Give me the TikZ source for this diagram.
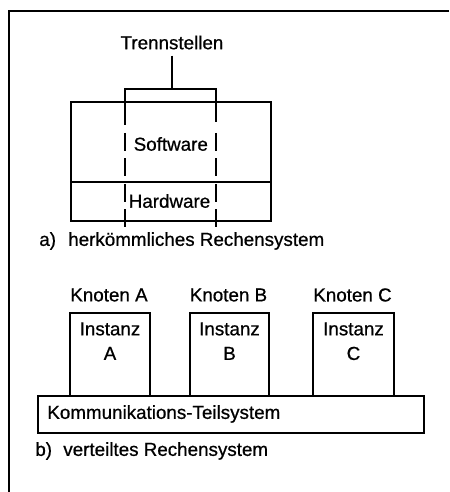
\documentclass[tikz,border=0pt]{standalone}
\usepackage{fontspec}
\setmainfont{Liberation Sans}[BoldFont=Liberation Sans, BoldFeatures={FakeBold=0.7}]
\usetikzlibrary{positioning}

\begin{document}
\begin{tikzpicture}[
  x=0.02cm, y=-0.02cm,
  box/.style={rectangle, draw=black, line width=1.1pt, inner sep=0pt},
  sep/.style={line width=0.85pt, dash pattern=on 10pt off 4.5pt},
  frame/.style={line width=1.3pt},
  lbl/.style={font=\fontsize{10.7}{13}\selectfont\bfseries, inner sep=0pt},
  captxt/.style={lbl, anchor=west}
]
  \useasboundingbox (0,0) rectangle (449,492);
  % outer frame (right and bottom edges cut off)
  \draw[frame] (449,11) -- (9,11) -- (9,492);

  % a) conventional system
  \node[box, minimum width=4cm, minimum height=1.6cm] (sw) at (170.7,142) {};
  \node[box, minimum width=4cm, minimum height=0.78cm] (hw) at (170.7,201.5) {};
  \node[lbl] (swtxt) at (170.8,144) {Software};
  \node[lbl] (hwtxt) at (169.5,201) {Hardware};

  % separation points
  \node[lbl, inner sep=3.3pt] (trenn) at (172,42.5) {Trennstellen};
  \coordinate (brL) at (125,89);
  \coordinate (brR) at (216,89);
  \coordinate (brTop) at (172,89);
  \draw[line width=0.85pt] (trenn.south) -- (brTop);
  \draw[line width=0.85pt] (125,125) -- (brL) -- (brR) -- (216,122);
  \foreach \x in {125,216}{
    \draw[sep] (\x,133) -- (\x,232);
  }
  \node[captxt] (capA) at (39,241) {a)\hspace{0.65em}herkömmliches Rechensystem};

  % b) distributed system
  \node[box, minimum width=7.72cm, minimum height=0.74cm] (komm) at (231,414.5) {};
  \node[lbl, anchor=west] (kommtxt) at (47,414) {Kommunikations-Teilsystem};
  \foreach \n/\x/\w in {A/110/1.6cm, B/229.5/1.58cm, C/353.5/1.62cm}{
    \node[box, minimum width=\w, minimum height=1.66cm] (inst\n) at (\x,354.5) {};
    \node[lbl, align=center, anchor=north] (insttxt\n) at ([yshift=-0.2cm]inst\n.north)
      {Instanz\\[1pt]\n};
    \node[lbl] (kn\n) at (\x-1,295) {Knoten \n};
  }
  \node[captxt] (capB) at (35,451) {b)\hspace{0.6em}verteiltes Rechensystem};
\end{tikzpicture}
\end{document}
